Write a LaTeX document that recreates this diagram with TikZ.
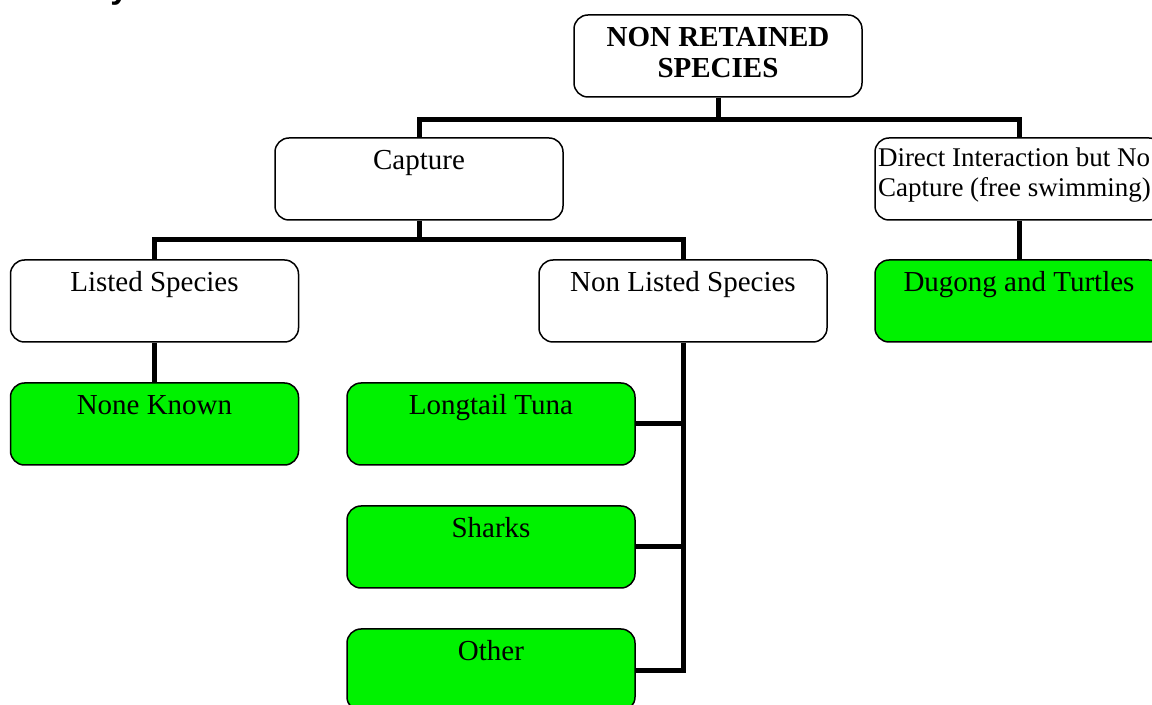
\documentclass[tikz,border=0pt]{standalone}
\usepackage{fontspec}
\setmainfont{Liberation Serif}
\newfontfamily\headfont{Liberation Sans}
\definecolor{leafgreen}{RGB}{0,242,0}

% text of a box: first baseline 16pt below the top edge
\newcommand\boxtext[1]{\parbox[c][41pt][t]{144pt}{\centering\rule{0pt}{16pt}#1}}

\begin{document}
\begin{tikzpicture}[x=0.5pt,y=-0.5pt,
  font=\fontsize{14.5pt}{15.5pt}\selectfont,
  box/.style={draw=black, line width=0.75pt, rounded corners=7pt, fill=white,
              inner sep=0pt, minimum width=144pt, minimum height=41pt},
  leaf/.style={box, fill=leafgreen},
  conn/.style={line width=2.5pt, line join=miter}]
\useasboundingbox (0,0) rectangle (1152,705);
\clip (0,0) rectangle (1152,705);

% heading running off the top edge
\node[anchor=base west, inner sep=0pt, font=\headfont\bfseries\fontsize{16.5pt}{18pt}\selectfont] (head) at (110,-1) {y};

% boxes
\node[box] (top) at (718,56) {\boxtext{\bfseries NON RETAINED\\SPECIES}};
\node[box] (cap) at (419,179) {\boxtext{Capture}};
\node[box] (dir) at (1019,179) {\parbox[c][41pt][t]{144pt}{\fontsize{13.5pt}{15pt}\selectfont\raggedright\leftskip=1.5pt\rule{0pt}{14.5pt}Direct Interaction but No\\Capture (free swimming)}};
\node[box] (ls) at (154.5,301) {\boxtext{Listed Species}};
\node[box] (nls) at (683,301) {\boxtext{Non Listed Species}};
\node[leaf] (dug) at (1019,301) {\boxtext{Dugong and Turtles}};
\node[leaf] (nk) at (154.5,424) {\boxtext{None Known}};
\node[leaf] (lt) at (491,424) {\boxtext{Longtail Tuna}};
\node[leaf] (sh) at (491,547) {\boxtext{Sharks}};
\node[leaf] (oth) at (491,670) {\boxtext{Other}};

% bus bars
\coordinate (bus1) at (0,120);
\coordinate (bus2) at (0,240);

% connectors
\draw[conn] (top.south) -- (top.south |- bus1);
\draw[conn] (cap.north) -- (cap.north |- bus1) -| (dir.north);
\draw[conn] (cap.south) -- (cap.south |- bus2);
\draw[conn] (ls.north) -- (ls.north |- bus2) -| (nls.north);
\draw[conn] (ls.south) -- (nk.north);
\draw[conn] (dir.south) -- (dug.north);
\draw[conn] (nls.south) |- (oth.east);
\draw[conn] (lt.east) -- (lt.east -| nls.south);
\draw[conn] (sh.east) -- (sh.east -| nls.south);
\end{tikzpicture}
\end{document}
